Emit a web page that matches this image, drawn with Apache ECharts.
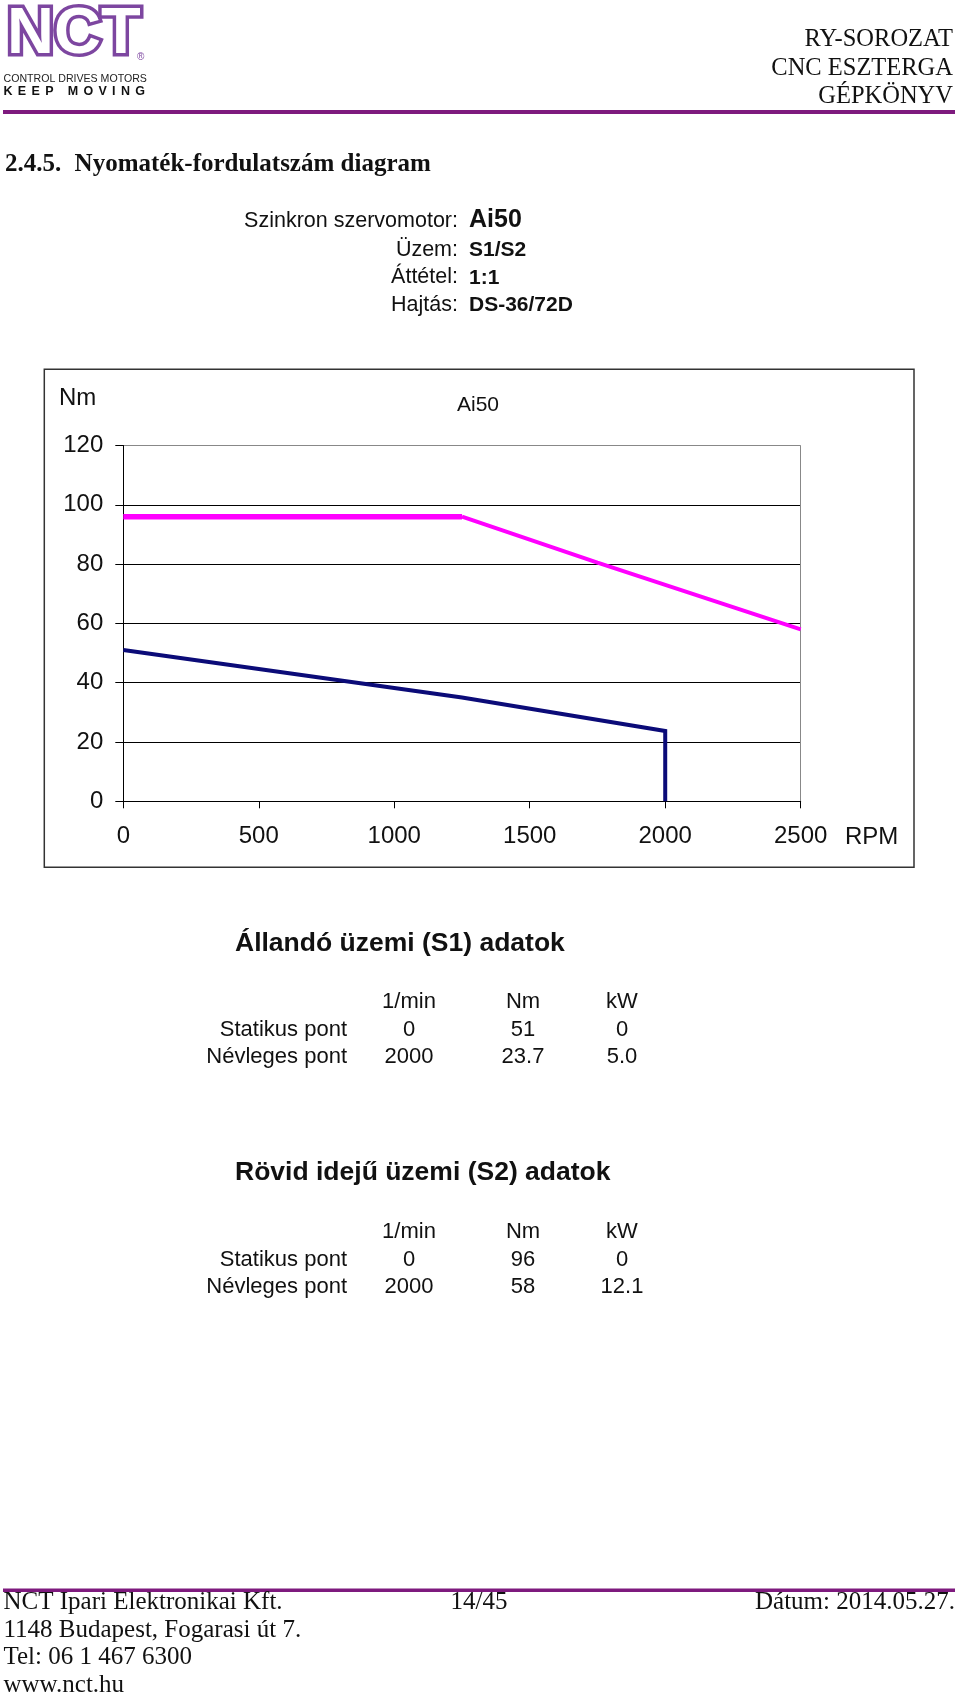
<!DOCTYPE html>
<html>
<head>
<meta charset="utf-8">
<script src="https://cdn.jsdelivr.net/npm/echarts@6/dist/echarts.min.js"></script>
<style>
html,body{margin:0;padding:0;background:#fff;}
#c{width:960px;height:1697px;}
</style>
</head>
<body>
<div id="c"></div>
<script>
// ---- data ----
const xTickValues = [0, 500, 1000, 1500, 2000, 2500];
const yTickValues = [0, 20, 40, 60, 80, 100, 120];
// S1 (continuous) torque curve
const rpmS1 = [0, 1250, 2000, 2000];
const torqueS1 = [51, 35, 23.7, 0];
// S2 (short time) torque curve: flat part and falling part
const rpmS2Flat = [0, 1250];
const torqueS2Flat = [96, 96];
const rpmS2Fall = [1250, 1750, 2000, 2500];
const torqueS2Fall = [96, 80.5, 73, 58];
// info block
const infoLabels = ['Szinkron szervomotor:', 'Üzem:', 'Áttétel:', 'Hajtás:'];
const infoValues = ['Ai50', 'S1/S2', '1:1', 'DS-36/72D'];
// tables
const tableHeader = ['1/min', 'Nm', 'kW'];
const s1Rows = ['Statikus pont', 'Névleges pont'];
const s1Values = [['0', '51', '0'], ['2000', '23.7', '5.0']];
const s2Rows = ['Statikus pont', 'Névleges pont'];
const s2Values = [['0', '96', '0'], ['2000', '58', '12.1']];
const headerRight = ['RY-SOROZAT', 'CNC ESZTERGA', 'GÉPKÖNYV'];
const footerLeft = ['NCT Ipari Elektronikai Kft.', '1148 Budapest, Fogarasi út 7.', 'Tel: 06 1 467 6300', 'www.nct.hu'];

// ---- helpers ----
const SANS = 'Liberation Sans, Arial, sans-serif';
const SERIF = 'Liberation Serif, Times New Roman, serif';
function txt(x, baseline, str, fs, opt) {
  opt = opt || {};
  const fam = opt.family || SANS;
  const off = fam === SERIF ? 0.3375 : 0.3465;
  return {
    type: 'text', silent: true, z: 10,
    x: x, y: baseline - off * fs,
    style: {
      text: str, fontSize: fs, fontFamily: fam,
      fontWeight: opt.weight || 'normal',
      fill: opt.fill || '#111',
      stroke: opt.stroke, lineWidth: opt.lineWidth,
      align: opt.align || 'left', textAlign: opt.align || 'left',
      verticalAlign: 'middle', textVerticalAlign: 'middle'
    }
  };
}
const PURPLE_LINE = '#7e1a7e';
const LOGO = '#7d46a0';

const g = [];
// header logo
g.push(txt(7, 58, 'NCT', 65, {weight: 'bold', fill: '#fff', stroke: LOGO, lineWidth: 7}));
g.push(txt(137, 61, '®', 10, {fill: LOGO}));
g.push(txt(3.5, 82.7, 'CONTROL DRIVES MOTORS', 10.6, {fill: '#222'}));
(function () {
  const word = 'KEEP MOVING';
  const ctx = document.createElement('canvas').getContext('2d');
  ctx.font = 'bold 12.5px ' + SANS;
  const widths = word.split('').map(ch => ctx.measureText(ch).width);
  const total = widths.reduce((a, b) => a + b, 0);
  const gap = (141.5 - total) / (word.length - 1);
  let x = 3.5;
  word.split('').forEach((ch, i) => {
    if (ch !== ' ') g.push(txt(x, 96, ch, 12.5, {weight: 'bold', fill: '#111'}));
    x += widths[i] + gap;
  });
})();
headerRight.forEach((s, i) => g.push(txt(953, 47.7 + i * 28.7, s, 24.5, {family: SERIF, align: 'right'})));
g.push({type: 'rect', silent: true, shape: {x: 3, y: 110, width: 952, height: 4}, style: {fill: PURPLE_LINE}});
// section title
g.push(txt(5, 173, '2.4.5.', 25, {family: SERIF, weight: 'bold'}));
g.push(txt(74.6, 173, 'Nyomaték-fordulatszám diagram', 25, {family: SERIF, weight: 'bold'}));
// info block
const infoBase = [229, 257.7, 285, 312.7];
infoLabels.forEach((s, i) => g.push(txt(458, infoBase[i], s, 21.5, {align: 'right'})));
infoValues.forEach((s, i) => g.push(txt(469, infoBase[i], s, i === 0 ? 25 : 21, {weight: 'bold'})));
// chart frame and axis texts
g.push({type: 'rect', silent: true, shape: {x: 44.3, y: 369.3, width: 869.7, height: 498}, style: {fill: 'transparent', stroke: '#333', lineWidth: 1.5}});
g.push(txt(59, 406.7, 'Nm', 24));
g.push(txt(478, 412, 'Ai50', 21, {align: 'center'}));
g.push(txt(845, 845.7, 'RPM', 24));
// tables
function table(title, titleBase, rows, vals, headBase) {
  g.push(txt(235, titleBase, title, 26.5, {weight: 'bold'}));
  const cx = [409, 523, 622];
  tableHeader.forEach((h, j) => g.push(txt(cx[j], headBase, h, 22, {align: 'center'})));
  rows.forEach((r, i) => {
    const b = headBase + 27.4 * (i + 1);
    g.push(txt(347, b, r, 22, {align: 'right'}));
    vals[i].forEach((v, j) => g.push(txt(cx[j], b, v, 22, {align: 'center'})));
  });
}
table('Állandó üzemi (S1) adatok', 953, s1Rows, s1Values, 1010);
table('Rövid idejű üzemi (S2) adatok', 1181.7, s2Rows, s2Values, 1240);
// footer
g.push({type: 'rect', silent: true, shape: {x: 3, y: 1588.5, width: 952, height: 3.6}, style: {fill: PURPLE_LINE}});
footerLeft.forEach((s, i) => g.push(txt(3.5, 1611.3 + i * 27.5, s, 25, {family: SERIF})));
g.push(txt(479, 1611.3, '14/45', 25, {family: SERIF, align: 'center'}));
g.push(txt(955, 1611.3, 'Dátum: 2014.05.27.', 25, {family: SERIF, align: 'right'}));

const chart = echarts.init(document.getElementById('c'), null, {renderer: 'canvas'});
chart.setOption({
  animation: false,
  backgroundColor: '#fff',
  grid: {left: 123.3, top: 445.5, width: 677.4, height: 355.8, containLabel: false},
  xAxis: {
    type: 'value', min: xTickValues[0], max: xTickValues[xTickValues.length - 1], interval: 500,
    axisLine: {show: true, onZero: false, lineStyle: {color: '#000', width: 1}},
    axisTick: {show: true, length: 7, lineStyle: {color: '#000', width: 1}},
    axisLabel: {show: true, margin: 23, fontSize: 24, fontFamily: SANS, color: '#111', formatter: v => String(v)},
    splitLine: {show: true, lineStyle: {color: ['transparent', 'transparent', 'transparent', 'transparent', 'transparent', '#888'], width: 1}}
  },
  yAxis: {
    type: 'value', min: yTickValues[0], max: yTickValues[yTickValues.length - 1], interval: 20,
    axisLine: {show: true, lineStyle: {color: '#000', width: 1}},
    axisTick: {show: true, length: 8, lineStyle: {color: '#000', width: 1}},
    axisLabel: {show: true, margin: 20, fontSize: 24, fontFamily: SANS, color: '#111', formatter: v => String(v)},
    splitLine: {show: true, lineStyle: {color: ['#000', '#000', '#000', '#000', '#000', '#000', '#888'], width: 1}}
  },
  series: [
    {type: 'line', name: 'S2 flat', data: rpmS2Flat.map((r, i) => [r, torqueS2Flat[i]]), symbol: 'none', silent: true,
     lineStyle: {color: '#ff00ff', width: 5.5, cap: 'butt'}, z: 3},
    {type: 'line', name: 'S2 fall', data: rpmS2Fall.map((r, i) => [r, torqueS2Fall[i]]), symbol: 'none', silent: true,
     lineStyle: {color: '#ff00ff', width: 4, cap: 'butt'}, z: 3},
    {type: 'line', name: 'S1', data: rpmS1.map((r, i) => [r, torqueS1[i]]), symbol: 'none', silent: true,
     lineStyle: {color: '#0b0b78', width: 4, cap: 'butt', join: 'miter'}, z: 4}
  ],
  graphic: {elements: g}
});
</script>
</body>
</html>
